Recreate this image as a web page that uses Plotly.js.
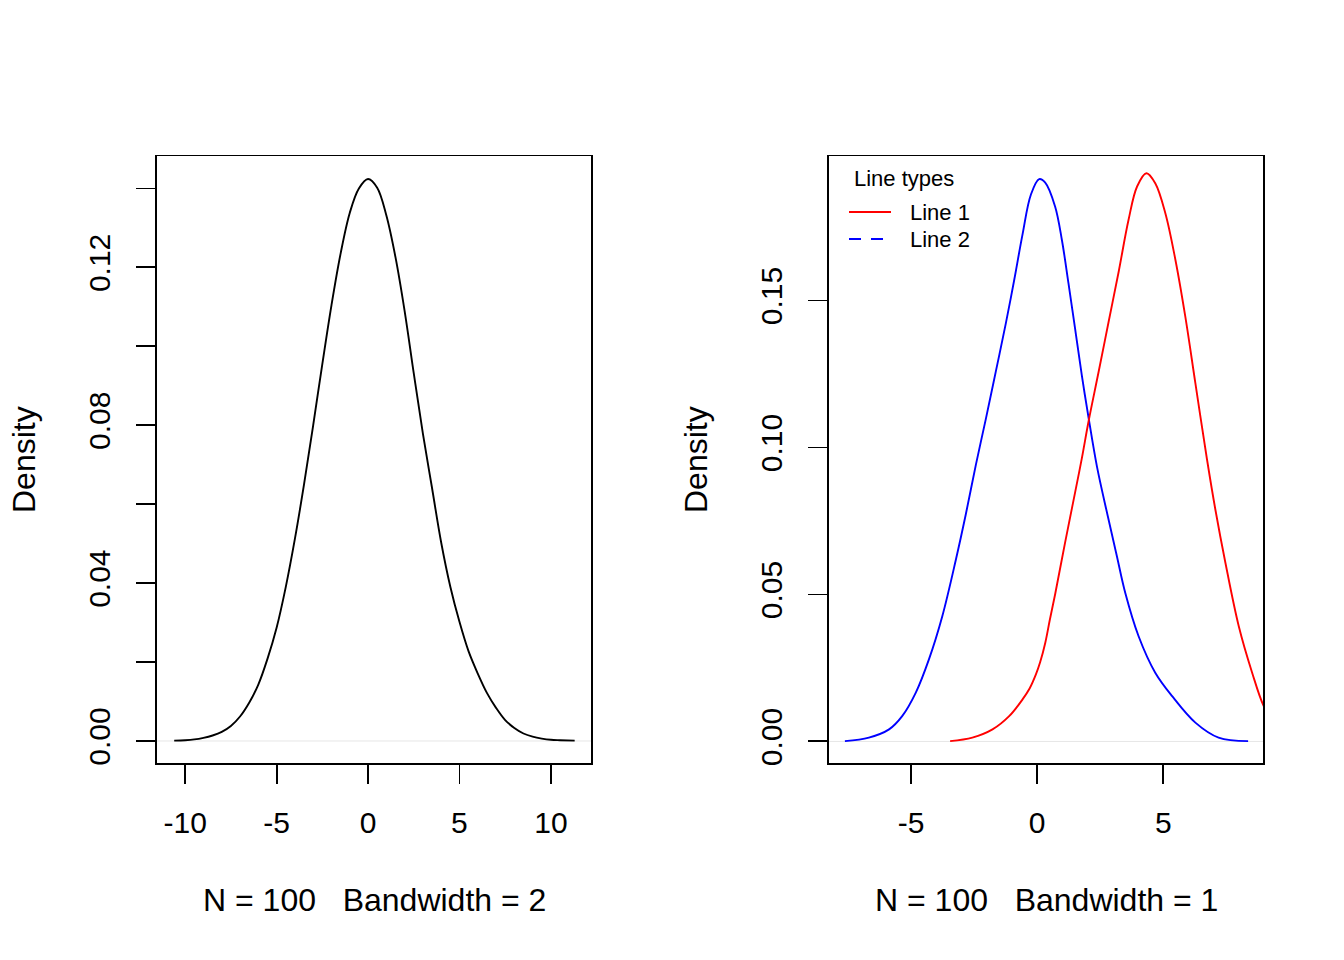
<!DOCTYPE html>
<html>
<head>
<meta charset="utf-8">
<script src="https://cdn.plot.ly/plotly-3.0.1.min.js"></script>
<style>
html,body{margin:0;padding:0;background:#fff;}
#chart{width:1344px;height:960px;}
</style>
</head>
<body>
<div id="chart"></div>
<script>
// Left panel: density (N = 100, bandwidth = 2)
const leftX = [-10.6,-10,-9.5,-9,-8.5,-8,-7.5,-7,-6.5,-6,-5.5,-5,-4.5,-4,-3.5,-3,-2.5,-2,-1.5,-1,-0.5,0,0.5,1,1.5,2,2.5,3,3.5,4,4.5,5,5.5,6,6.5,7,7.5,8,8.5,9,9.5,10,10.5,11.3];
const leftY = [0.0001,0.0002,0.0004,0.0008,0.0014,0.0023,0.0038,0.0062,0.0097,0.0143,0.0208,0.0287,0.0390,0.0512,0.0650,0.0800,0.0955,0.1104,0.1235,0.1338,0.1400,0.1424,0.1402,0.1332,0.1226,0.1090,0.0932,0.0779,0.0641,0.0503,0.0391,0.0302,0.0227,0.0171,0.0122,0.0084,0.0053,0.0033,0.0019,0.0011,0.0006,0.0003,0.0002,0.0001];

// Right panel: blue density
const blueX = [-7.62,-6.67,-5.87,-5.35,-4.81,-4.29,-3.76,-3.22,-2.83,-2.43,-2.04,-1.64,-1.24,-0.91,-0.58,-0.25,0.08,0.32,0.71,0.98,1.24,1.51,1.77,2.04,2.37,2.80,3.16,3.49,4.02,4.68,5.35,6.27,7.19,8.36];
const blueY = [0.0001,0.0013,0.0041,0.0086,0.0166,0.0279,0.0426,0.0619,0.0772,0.0941,0.1095,0.1258,0.1423,0.1570,0.1725,0.1860,0.1913,0.1901,0.1820,0.1706,0.1559,0.1400,0.1245,0.1100,0.0935,0.0766,0.0630,0.0506,0.0358,0.0234,0.0154,0.0064,0.0013,0.0001];

// Right panel: red density
const redX = [-3.45,-2.57,-1.77,-1.11,-0.58,-0.3,-0.05,0.12,0.32,0.5,0.71,1.11,1.51,1.77,2.04,2.43,2.83,3.23,3.62,3.96,4.33,4.68,5.08,5.48,5.87,6.27,6.73,7.06,7.46,7.99,8.52,8.98,9.5];
const redY = [0.0001,0.0013,0.0041,0.0086,0.0143,0.0180,0.0228,0.0270,0.0335,0.0413,0.0500,0.0678,0.0850,0.0963,0.1090,0.1255,0.1427,0.1598,0.1774,0.1888,0.1933,0.1899,0.1797,0.1638,0.1446,0.1219,0.0960,0.0790,0.0608,0.0392,0.0234,0.0120,0.0045];

// Tick values / labels
const leftXTicks = [-10,-5,0,5,10];
const leftXLabels = ["-10","-5","0","5","10"];
const leftYTicks = [0,0.02,0.04,0.06,0.08,0.10,0.12,0.14];
const leftYLabels = ["0.00","","0.04","","0.08","","0.12",""];
const rightXTicks = [-5,0,5];
const rightXLabels = ["-5","0","5"];
const rightYTicks = [0,0.05,0.10,0.15];
const rightYLabels = ["0.00","0.05","0.10","0.15"];

// Legend content
const legendTitle = "Line types";
const legendNames = ["Line 1","Line 2"];
const legendColors = ["#ff0000","#0000ff"];
const legendDashes = ["solid","12px,10px"];

const leftXTitle = "N = 100   Bandwidth = 2";
const rightXTitle = "N = 100   Bandwidth = 1";
const yTitle = "Density";

const FONT = "Liberation Sans, Arial, Helvetica, sans-serif";
const FS = 30;
const FT = 32;
const FL = 22;
const LW = 1.9;
const W = 1344, H = 960;
const nb = s => s.replace(/ /g, "\u00A0");
const px = v => v / W;
const py = v => 1 - v / H;

const traces = [
  {x:leftX, y:leftY, xaxis:"x", yaxis:"y", type:"scatter", mode:"lines",
   line:{color:"#000000", width:LW, shape:"spline", smoothing:1}, showlegend:false, hoverinfo:"skip"},
  {x:blueX, y:blueY, xaxis:"x2", yaxis:"y2", type:"scatter", mode:"lines",
   line:{color:"#0000ff", width:LW, shape:"spline", smoothing:1}, showlegend:false, hoverinfo:"skip"},
  {x:redX, y:redY, xaxis:"x2", yaxis:"y2", type:"scatter", mode:"lines",
   line:{color:"#ff0000", width:LW, shape:"spline", smoothing:1}, showlegend:false, hoverinfo:"skip"}
];

const axisCommon = {
  showgrid:false, zeroline:false, showline:true, mirror:true,
  linecolor:"#000", linewidth:LW, ticks:"outside", ticklen:19, tickwidth:LW, tickcolor:"#000",
  tickmode:"array", tickfont:{family:FONT, size:FS, color:"#000"}, fixedrange:true
};

const shapes = [
  {type:"line", xref:"x domain", yref:"y", x0:0, x1:1, y0:0, y1:0, line:{color:"#e6e6e6", width:1}, layer:"below"},
  {type:"line", xref:"x2 domain", yref:"y2", x0:0, x1:1, y0:0, y1:0, line:{color:"#e6e6e6", width:1}, layer:"below"}
];
const annotations = [
  {text:nb(leftXTitle), xref:"paper", yref:"paper", x:px(374), y:py(900), xanchor:"center", yanchor:"middle", showarrow:false, font:{family:FONT,size:FT,color:"#000"}},
  {text:nb(rightXTitle), xref:"paper", yref:"paper", x:px(1046), y:py(900), xanchor:"center", yanchor:"middle", showarrow:false, font:{family:FONT,size:FT,color:"#000"}},
  {text:yTitle, xref:"paper", yref:"paper", x:px(24), y:py(460), xanchor:"center", yanchor:"middle", textangle:-90, showarrow:false, font:{family:FONT,size:FT,color:"#000"}},
  {text:yTitle, xref:"paper", yref:"paper", x:px(696), y:py(460), xanchor:"center", yanchor:"middle", textangle:-90, showarrow:false, font:{family:FONT,size:FT,color:"#000"}},
  {text:legendTitle, xref:"paper", yref:"paper", x:px(852), y:py(178), xanchor:"left", yanchor:"middle", showarrow:false, font:{family:FONT,size:FL,color:"#000"}}
];
// hand-built legend (R-style, no box)
legendNames.forEach((nm, i) => {
  const yy = 212 + i * 27;
  shapes.push({type:"line", xref:"paper", yref:"paper", x0:px(849), x1:px(891), y0:py(yy), y1:py(yy),
    line:{color:legendColors[i], width:LW, dash:legendDashes[i]}});
  annotations.push({text:nm, xref:"paper", yref:"paper", x:px(908), y:py(yy), xanchor:"left", yanchor:"middle",
    showarrow:false, font:{family:FONT,size:FL,color:"#000"}});
});

const layout = {
  width:W, height:H,
  margin:{l:0, r:0, t:0, b:0},
  paper_bgcolor:"#fff", plot_bgcolor:"#fff",
  font:{family:FONT, size:FS, color:"#000"},
  showlegend:false,
  xaxis: Object.assign({}, axisCommon, {domain:[0.11682,0.44010], range:[-11.54,12.22],
    tickvals:leftXTicks, ticktext:leftXLabels, anchor:"y", ticklabelstandoff:13}),
  yaxis: Object.assign({}, axisCommon, {domain:[0.20469,0.83698], range:[-0.0057,0.1481],
    tickvals:leftYTicks, ticktext:leftYLabels, anchor:"x", tickangle:-90, ticklabelstandoff:14}),
  xaxis2: Object.assign({}, axisCommon, {domain:[0.61682,0.94010], range:[-8.25,8.97],
    tickvals:rightXTicks, ticktext:rightXLabels, anchor:"y2", ticklabelstandoff:13}),
  yaxis2: Object.assign({}, axisCommon, {domain:[0.20469,0.83698], range:[-0.0075,0.1990],
    tickvals:rightYTicks, ticktext:rightYLabels, anchor:"x2", tickangle:-90, ticklabelstandoff:14}),
  shapes:shapes,
  annotations:annotations
};

Plotly.newPlot("chart", traces, layout, {displayModeBar:false, staticPlot:true});
</script>
</body>
</html>
